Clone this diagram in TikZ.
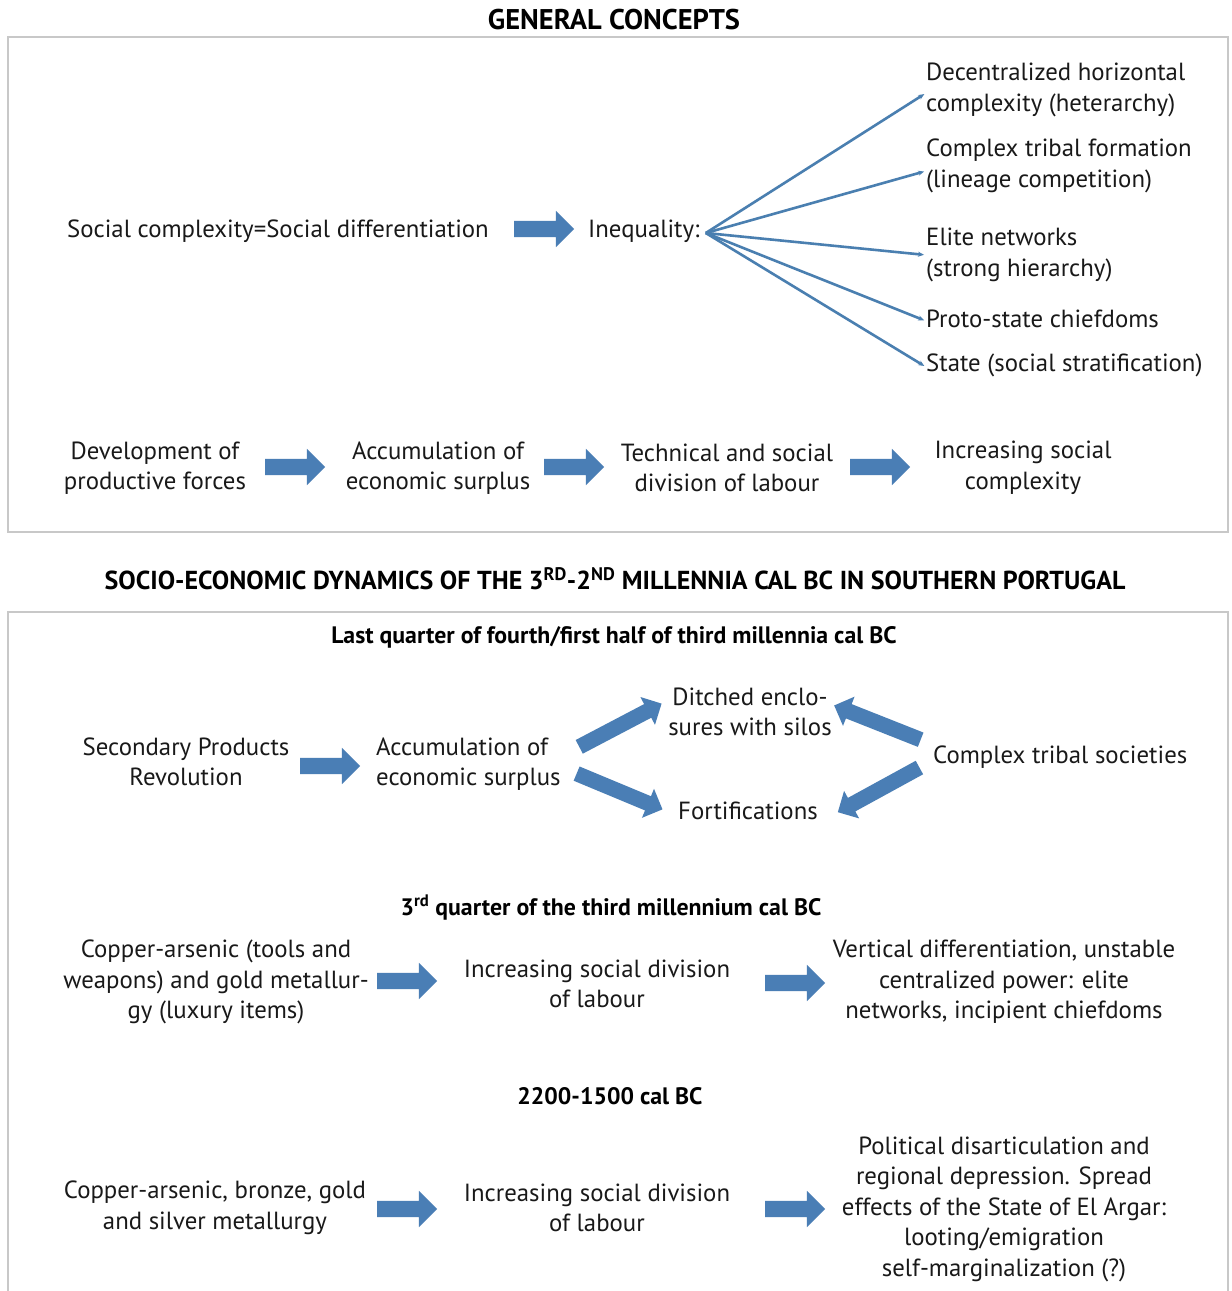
\documentclass[tikz,border=0pt]{standalone}
\usepackage{fontspec}
\setmainfont{PT Sans}
\usetikzlibrary{shapes.arrows,arrows.meta}
\definecolor{arr}{HTML}{4A7EB5}
\definecolor{fanc}{HTML}{4A7FB0}
\definecolor{frame}{HTML}{C8C8C8}
\tikzset{
  txt/.style={inner sep=0pt, align=center, text=black!90, font=\fontsize{24.8}{30.5}\selectfont},
  ttl/.style={inner sep=0pt, font=\bfseries\fontsize{28.5}{32}\selectfont},
  ttlb/.style={inner sep=0pt, font=\bfseries\fontsize{26}{30}\selectfont},
  sub/.style={inner sep=0pt, font=\bfseries\fontsize{23.8}{28}\selectfont},
  barrow/.style={single arrow, fill=arr, draw=none, inner xsep=0pt, inner ysep=8pt,
    single arrow head extend=10pt, single arrow head indent=0pt, minimum height=60pt},
  darrow/.style={single arrow, fill=arr, draw=none, inner xsep=0pt, inner ysep=7.5pt,
    single arrow head extend=8pt, single arrow head indent=0pt, minimum height=93pt},
  fan/.style={draw=fanc, line width=2.6pt, -{Stealth[length=6pt,width=5pt]}, shorten >=2pt},
  box/.style={draw=frame, line width=1.5pt}
}
\begin{document}
\begin{tikzpicture}[x=1pt,y=-1pt]
\useasboundingbox (0,0) rectangle (1232,1291);
\fill[white] (0,0) rectangle (1232,1291);
% frames
\draw[box] (8,37) rectangle (1228,532);
\draw[box] (8,1291) -- (8,612) -- (1228,612) -- (1228,1291);
% --- general concepts
\node[ttl] (t1) at (614,20) {GENERAL CONCEPTS};
\node[txt, anchor=west] (sc) at (67,231) {Social complexity=Social differentiation};
\node[barrow] (a1) at (540,229) {};
\node[txt, anchor=west] (ineq) at (588,231) {Inequality:};
\coordinate (fo) at ([xshift=6pt,yshift=-2pt]ineq.east);
\node[txt, anchor=west, align=left] (dec) at (926,90) {Decentralized horizontal\\complexity (heterarchy)};
\node[txt, anchor=west, align=left] (ctf) at (926,166) {Complex tribal formation\\(lineage competition)};
\node[txt, anchor=west, align=left] (elite) at (926,255) {Elite networks\\(strong hierarchy)};
\node[txt, anchor=west, align=left] (proto) at (926,319) {Proto-state chiefdoms};
\node[txt, anchor=west, align=left] (state) at (926,365) {State (social stratification)};
\draw[fan] (fo) -- ([yshift=-3pt]dec.west);
\draw[fan] (fo) -- ([yshift=-5pt]ctf.west);
\draw[fan] (fo) -- (elite.west);
\draw[fan] (fo) -- ([yshift=-2pt]proto.west);
\draw[fan] (fo) -- ([yshift=-2pt]state.west);
% bottom row
\node[txt] (dp) at (155,468) {Development of\\productive forces};
\node[barrow] (a2) at (291,467) {};
\node[txt] (aes) at (438,468) {Accumulation of\\economic surplus};
\node[barrow] (a3) at (570,467) {};
\node[txt] (tsd) at (727,468) {Technical and social\\division of labour};
\node[barrow] (a4) at (876,467) {};
\node[txt] (isc) at (1023,468) {Increasing social\\complexity};
% --- socio-economic dynamics
\node[ttlb] (t2) at (615,579) {SOCIO-ECONOMIC DYNAMICS OF THE 3\textsuperscript{RD}-2\textsuperscript{ND} MILLENNIA CAL BC IN SOUTHERN PORTUGAL};
\node[sub] (s1) at (614,637) {Last quarter of fourth/first half of third millennia cal BC};
\node[txt] (spr) at (186,762) {Secondary Products\\Revolution};
\node[barrow] (a5) at (326,766) {};
\node[txt, anchor=west, align=left] (aes2) at (376,764) {Accumulation of\\economic surplus};
\node[txt] (ditch) at (750,712) {Ditched enclo-\\sures with silos};
\node[txt] (fort) at (748,811) {Fortifications};
\node[txt, anchor=west] (cts) at (933,757) {Complex tribal societies};
\node[darrow, rotate=27.7] (d1) at (617,727) {};
\node[darrow, rotate=-22.6] (d2) at (616,790) {};
\node[darrow, rotate=158.4] (d3) at (881,724) {};
\node[darrow, rotate=208.7] (d4) at (882,788) {};
% 3rd quarter
\node[sub] (s2) at (611,908) {3\textsuperscript{rd} quarter of the third millennium cal BC};
\node[txt] (cag) at (216,982) {Copper-arsenic (tools and\\weapons) and gold metallur-\\gy (luxury items)};
\node[barrow] (a6) at (403,981) {};
\node[txt] (isd1) at (597,984) {Increasing social division\\of labour};
\node[barrow] (a7) at (791,983) {};
\node[txt] (vd) at (1004,982) {Vertical differentiation, unstable\\centralized power: elite\\networks, incipient chiefdoms};
% 2200-1500
\node[sub] (s3) at (610,1096) {2200-1500 cal BC};
\node[txt] (cab) at (215,1208) {Copper-arsenic, bronze, gold\\and silver metallurgy};
\node[barrow] (a8) at (403,1209) {};
\node[txt] (isd2) at (597,1208) {Increasing social division\\of labour};
\node[barrow] (a9) at (791,1209) {};
\node[txt] (pd) at (1004,1209) {Political disarticulation and\\regional depression. Spread\\effects of the State of El Argar:\\looting/emigration\\self-marginalization (?)};
\end{tikzpicture}
\end{document}
